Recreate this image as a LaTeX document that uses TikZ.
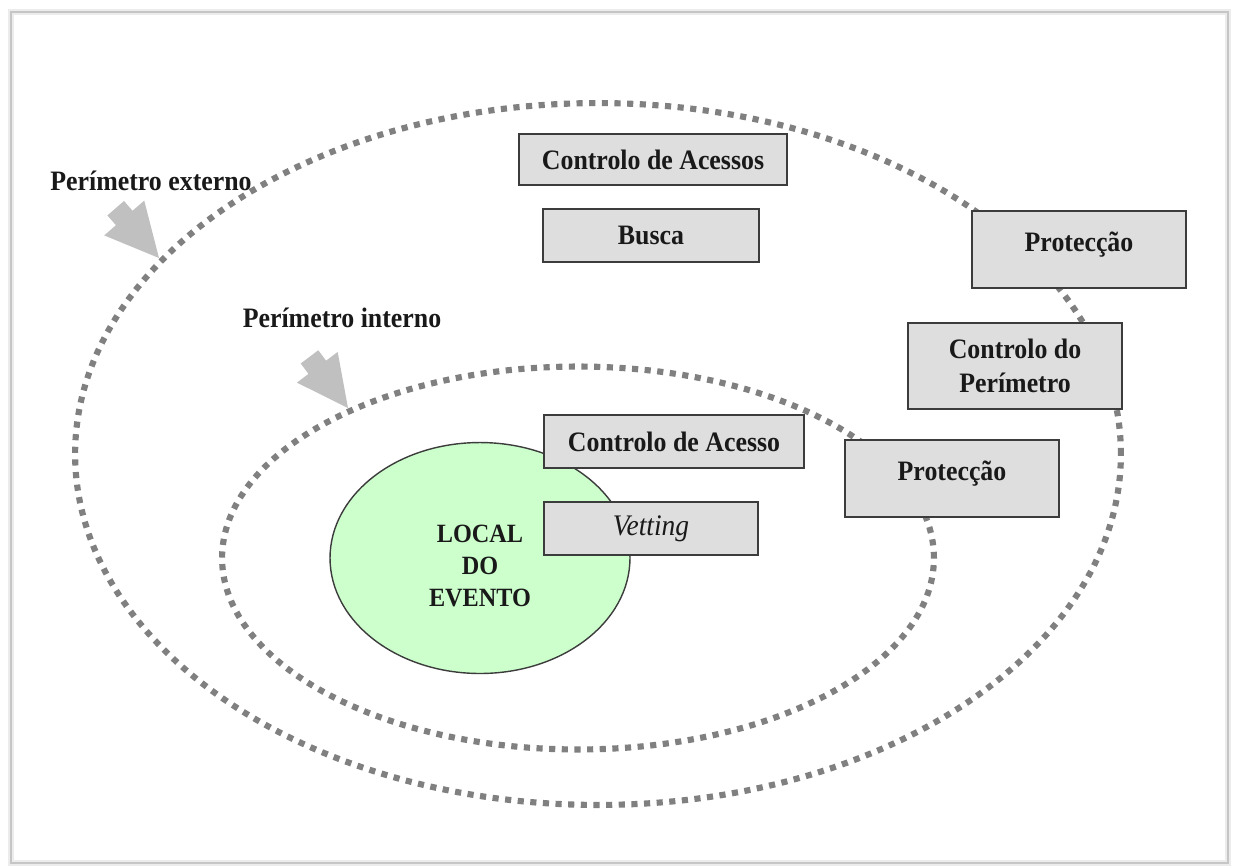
\documentclass[tikz,border=0pt]{standalone}
\usepackage{fontspec}
\setmainfont{Liberation Serif}[FakeStretch=0.92]
\usetikzlibrary{shapes.geometric}
\definecolor{dotgray}{RGB}{128,128,128}
\definecolor{boxfill}{RGB}{222,222,222}
\definecolor{boxline}{RGB}{60,60,60}
\definecolor{eventgreen}{RGB}{204,255,204}
\definecolor{arrowgray}{RGB}{192,192,192}
\definecolor{textdark}{RGB}{25,25,25}
\tikzset{
  zone/.style={draw=dotgray, line width=3.5pt, dash pattern=on 3.5pt off 3.7pt},
  box/.style={draw=boxline, fill=boxfill, line width=1.1pt, inner sep=0pt,
    minimum width=4.28cm, minimum height=1.06cm, text=textdark,
    font=\fontsize{16}{19}\selectfont\bfseries},
  tallbox/.style={box, text height=0.8cm, text depth=0.74cm},
  tag/.style={anchor=base, text=textdark, font=\fontsize{16}{19}\selectfont\bfseries},
  pointer/.style={fill=arrowgray},
}
\begin{document}
\begin{tikzpicture}[x=0.02cm,y=-0.02cm]
    \useasboundingbox (0,0) rectangle (1234,867);
    \fill[white] (0,0) rectangle (1234,867);
    \draw[gray!15, line width=3pt] (11,12) rectangle (1228,863);
    \draw[gray!45, line width=1.1pt] (11,12) rectangle (1228,863);
    % perimeters
    \coordinate (outer) at (598,454);
    \coordinate (inner) at (578,558);
    \draw[zone] (outer) ellipse [x radius=10.46cm, y radius=7.02cm];
    \draw[zone] (inner) ellipse [x radius=7.12cm, y radius=3.83cm];
    % event area
    \node[ellipse, draw=boxline, fill=eventgreen, line width=0.8pt,
          minimum width=6cm, minimum height=4.62cm, inner sep=0pt] (event) at (480,558) {};
    \node[align=center, text=textdark, font=\fontsize{15}{18.2}\selectfont\bfseries] (eventtxt) at (480,566) {LOCAL\\DO\\EVENTO};
    % pointers
    \fill[pointer, shift={(159,258)}, rotate=-49]
        (0,0) -- (-53,-26.5) -- (-53,-11) -- (-66,-11) -- (-66,11) -- (-53,11) -- (-53,26.5) -- cycle;
    \fill[pointer, shift={(348,408)}, rotate=-53]
        (0,0) -- (-51,-25.5) -- (-51,-11) -- (-64,-11) -- (-64,11) -- (-51,11) -- (-51,25.5) -- cycle;
    \node[tag] (extlabel) at (151,190) {Perímetro externo};
    \node[tag] (intlabel) at (342,327) {Perímetro interno};
    % measures
    \node[box, minimum width=5.36cm, minimum height=1.02cm] (acessos) at (653,159.5) {Controlo de Acessos};
    \node[box, minimum width=4.32cm] (busca) at (651,235.5) {Busca};
    \node[tallbox] (protext) at (1079,249.5) {Protecção};
    \node[box, align=center, minimum height=1.72cm] (perimetro) at (1015,366) {Controlo do\\Perímetro};
    \node[box, minimum width=5.2cm] (acesso) at (674,441.5) {Controlo de Acesso};
    \node[tallbox] (protint) at (952,478.5) {Protecção};
    \node[box, font=\fontsize{17}{19}\selectfont\itshape] (vetting) at (651,528.5) {Vetting};
\end{tikzpicture}
\end{document}
